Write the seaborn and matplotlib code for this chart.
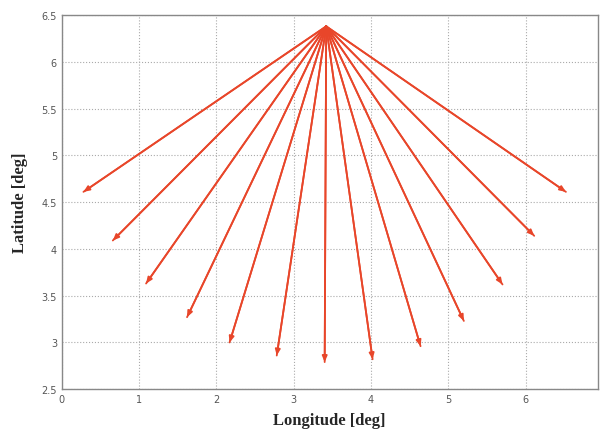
import matplotlib
matplotlib.use("Agg")
from matplotlib import pyplot as plt
import seaborn as sns
import pandas as pd

# Start point of all rays
origin_lon = 3.42
origin_lat = 6.38

# End points of the rays
end_lon = [0.28, 0.66, 1.09, 1.62, 2.17, 2.78, 3.40, 4.02, 4.64, 5.20, 5.70, 6.11, 6.52]
end_lat = [4.61, 4.09, 3.63, 3.27, 3.00, 2.86, 2.79, 2.82, 2.96, 3.23, 3.62, 4.14, 4.61]

x_ticks = [0, 1, 2, 3, 4, 5, 6]
y_ticks = [2.5, 3, 3.5, 4, 4.5, 5, 5.5, 6, 6.5]
y_tick_labels = ["2.5", "3", "3.5", "4", "4.5", "5", "5.5", "6", "6.5"]

if __name__ == "__main__":
    rows = []
    for i, (lon, lat) in enumerate(zip(end_lon, end_lat)):
        rows.append({"ray": i, "step": 0, "lon": origin_lon, "lat": origin_lat})
        rows.append({"ray": i, "step": 1, "lon": lon, "lat": lat})
    rays = pd.DataFrame(rows)

    sns.set_style("white")
    fig = plt.figure(figsize=(6, 4.35), dpi=100)
    ax = fig.add_axes([0.103, 0.103, 0.893, 0.860])

    red = "#e8462a"
    sns.lineplot(data=rays, x="lon", y="lat", units="ray", estimator=None,
                 sort=False, color=red, lw=1.3, ax=ax, legend=False)

    # arrow heads
    for lon, lat in zip(end_lon, end_lat):
        ax.annotate("", xy=(lon, lat), xytext=(origin_lon, origin_lat),
                    arrowprops=dict(arrowstyle="-|>,head_length=0.35,head_width=0.15",
                                    color=red, lw=1.3, shrinkA=0, shrinkB=0))

    ax.set_xlim(0, 6.93)
    ax.set_ylim(2.5, 6.5)
    ax.set_xticks(x_ticks)
    ax.set_yticks(y_ticks)
    ax.set_yticklabels(y_tick_labels)
    ax.tick_params(labelsize=7, colors="#555555", length=3, direction="in")
    ax.grid(True, linestyle=":", color="#aaaaaa", lw=0.8)
    for s in ax.spines.values():
        s.set_color("#888888")
        s.set_linewidth(1.0)

    ax.set_xlabel("Longitude [deg]", fontsize=12, fontweight="bold",
                  family="Liberation Serif", labelpad=6)
    ax.set_ylabel("Latitude [deg]", fontsize=12, fontweight="bold",
                  family="Liberation Serif", labelpad=10)

    fig.savefig("out.png", dpi=100)
